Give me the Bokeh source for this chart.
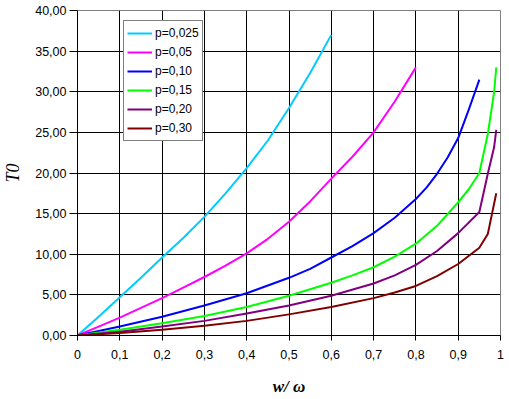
from bokeh.plotting import figure
from bokeh.models import FixedTicker, CustomJSTickFormatter, Range1d, Legend, LegendItem
from bokeh.embed import file_html
from bokeh.resources import INLINE

# ---- data ----
x_025 = [0, 0.05, 0.1, 0.15, 0.2, 0.25, 0.3, 0.35, 0.4, 0.45, 0.5, 0.55, 0.6]
y_025 = [0, 2.3, 4.7, 7.1, 9.6, 12.0, 14.6, 17.5, 20.6, 24.0, 28.0, 32.3, 37.0]

x_05 = [0, 0.05, 0.1, 0.15, 0.2, 0.25, 0.3, 0.35, 0.4, 0.45, 0.5, 0.55, 0.6, 0.65, 0.7, 0.75, 0.8]
y_05 = [0, 1.1, 2.2, 3.4, 4.6, 5.9, 7.2, 8.6, 10.1, 11.9, 14.0, 16.5, 19.3, 22.0, 25.0, 28.8, 33.0]

x_10 = [0, 0.1, 0.2, 0.3, 0.4, 0.5, 0.55, 0.6, 0.65, 0.7, 0.75, 0.8, 0.825, 0.85, 0.875, 0.9, 0.925, 0.95]
y_10 = [0, 1.1, 2.3, 3.7, 5.2, 7.1, 8.2, 9.6, 11.0, 12.6, 14.5, 16.8, 18.2, 19.9, 21.9, 24.3, 27.8, 31.5]

x_15 = [0, 0.1, 0.2, 0.3, 0.4, 0.5, 0.6, 0.65, 0.7, 0.75, 0.8, 0.85, 0.9, 0.925, 0.95, 0.97, 0.985, 0.99]
y_15 = [0, 0.7, 1.5, 2.4, 3.5, 4.9, 6.5, 7.4, 8.4, 9.7, 11.3, 13.5, 16.4, 18.0, 20.0, 24.8, 30.0, 33.0]

x_20 = [0, 0.1, 0.2, 0.3, 0.4, 0.5, 0.6, 0.7, 0.75, 0.8, 0.85, 0.9, 0.95, 0.97, 0.985, 0.99]
y_20 = [0, 0.45, 1.1, 1.8, 2.7, 3.7, 4.9, 6.4, 7.4, 8.7, 10.4, 12.6, 15.2, 19.9, 23.2, 25.3]

x_30 = [0, 0.1, 0.2, 0.3, 0.4, 0.5, 0.6, 0.7, 0.75, 0.8, 0.85, 0.9, 0.95, 0.97, 0.98, 0.99]
y_30 = [0, 0.3, 0.7, 1.2, 1.8, 2.6, 3.5, 4.6, 5.3, 6.1, 7.3, 8.8, 10.8, 12.5, 15.0, 17.5]

labels = ["p=0,025", "p=0,05", "p=0,10", "p=0,15", "p=0,20", "p=0,30"]
colors = ["#00CCFF", "#FF00FF", "#0000FF", "#00FF00", "#800080", "#800000"]
xs = [x_025, x_05, x_10, x_15, x_20, x_30]
ys = [y_025, y_05, y_10, y_15, y_20, y_30]

x_ticks = [0, 0.1, 0.2, 0.3, 0.4, 0.5, 0.6, 0.7, 0.8, 0.9, 1.0]
y_ticks = [0, 5, 10, 15, 20, 25, 30, 35, 40]

p = figure(width=509, height=399, output_backend="svg", toolbar_location=None,
           x_range=Range1d(0, 1), y_range=Range1d(0, 40),
           min_border_left=77, min_border_right=9, min_border_top=10, min_border_bottom=64)
p.background_fill_color = "white"
p.border_fill_color = "white"
p.outline_line_color = "#808080"
p.outline_line_width = 1

items = []
for xv, yv, c, lab in zip(xs, ys, colors, labels):
    r = p.line(xv, yv, line_color=c, line_width=2, line_join="round")
    items.append(LegendItem(label=lab, renderers=[r]))

p.xaxis.ticker = FixedTicker(ticks=x_ticks)
p.yaxis.ticker = FixedTicker(ticks=y_ticks)
p.xaxis.formatter = CustomJSTickFormatter(code="""
const t = Math.round(tick*10)/10;
return (Number.isInteger(t) ? t.toString() : t.toFixed(1)).replace('.', ',');
""")
p.yaxis.formatter = CustomJSTickFormatter(code="return tick.toFixed(2).replace('.', ',');")

for ax in (p.xaxis[0], p.yaxis[0]):
    ax.axis_line_color = "black"
    ax.major_tick_line_color = "black"
    ax.major_tick_in = 0
    ax.minor_tick_line_color = None
    ax.major_label_text_font = "Liberation Sans"
    ax.major_label_text_font_size = "12.5px"
    ax.major_label_text_color = "black"
    ax.axis_label_text_font = "Liberation Serif"
    ax.axis_label_text_font_style = "italic"
    ax.axis_label_text_color = "black"

p.xaxis.major_tick_out = 5
p.yaxis.major_tick_out = 8

p.xaxis.axis_label = "w/ ω"
p.xaxis.axis_label_text_font_size = "17px"
p.xaxis.axis_label_text_font_style = "bold italic"
p.xaxis.axis_label_standoff = 15
p.xaxis.major_label_standoff = 9

p.yaxis.axis_label = "T0"
p.yaxis.axis_label_text_font_size = "18px"
p.yaxis.axis_label_standoff = 9
p.yaxis.major_label_standoff = 3

p.xgrid.grid_line_color = "black"
p.ygrid.grid_line_color = "black"
p.xgrid.grid_line_width = 1
p.ygrid.grid_line_width = 1

legend = Legend(items=items, location=(46, 194))
legend.label_text_font = "Liberation Sans"
legend.label_text_font_size = "12px"
legend.label_text_color = "black"
legend.glyph_width = 25
legend.glyph_height = 18
legend.label_height = 18
legend.label_standoff = 3
legend.spacing = 1
legend.padding = 3
legend.margin = 0
legend.border_line_color = "black"
legend.border_line_width = 1
legend.background_fill_color = "white"
legend.background_fill_alpha = 1
p.add_layout(legend, "center")

open("out.html", "w").write(file_html(p, INLINE))
